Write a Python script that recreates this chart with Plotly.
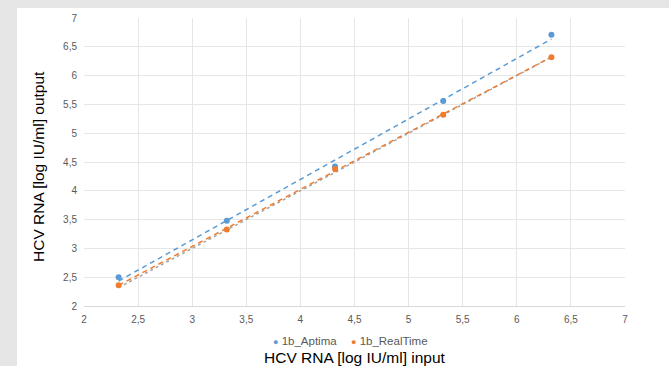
import numpy as np
import plotly.graph_objects as go

# Data
input_log = [2.32, 3.32, 4.32, 5.32, 6.32]
aptima = [2.50, 3.48, 4.42, 5.56, 6.71]
realtime = [2.36, 3.33, 4.38, 5.32, 6.32]
expected = [2.32, 3.32, 4.32, 5.32, 6.32]
series_names = ["1b_Aptima", "1b_RealTime"]

BLUE = "#5b9bd5"
ORANGE = "#ed7d31"
GRAY = "#a5a5a5"

x = np.array(input_log)


def trend(yv):
    k, b = np.polyfit(x, np.array(yv), 1)
    return list(k * x + b)


fig = go.Figure()
fig.add_trace(go.Scatter(x=input_log, y=expected, mode="lines",
                         line=dict(color=GRAY, dash="dot", width=1.5),
                         showlegend=False, hoverinfo="skip"))
fig.add_trace(go.Scatter(x=input_log, y=trend(aptima), mode="lines",
                         line=dict(color=BLUE, dash="5px,4px", width=1.5),
                         showlegend=False, hoverinfo="skip"))
fig.add_trace(go.Scatter(x=input_log, y=trend(realtime), mode="lines",
                         line=dict(color=ORANGE, dash="5px,4px", width=1.5),
                         showlegend=False, hoverinfo="skip"))
fig.add_trace(go.Scatter(x=input_log, y=aptima, mode="markers", name=series_names[0],
                         marker=dict(color=BLUE, size=6), showlegend=False))
fig.add_trace(go.Scatter(x=input_log, y=realtime, mode="markers", name=series_names[1],
                         marker=dict(color=ORANGE, size=6), showlegend=False))

W, H = 669, 366
L, R, T, B = 84, 625, 18, 306
pw, ph = R - L, B - T


def px(xp):
    return (xp - L) / pw


def py(yp):
    return (B - yp) / ph


fig.add_shape(type="rect", xref="paper", yref="paper",
              x0=px(17), x1=px(W + 5), y0=py(H + 5), y1=py(8),
              fillcolor="white", line=dict(width=0), layer="below")

tickfont = dict(family="Liberation Sans", size=10, color="#595959")
fig.update_xaxes(range=[2, 7], dtick=0.5, tick0=2, showgrid=True, gridcolor="#e6e6e6",
                 gridwidth=1, showline=True, linecolor="#d9d9d9", linewidth=1,
                 zeroline=False, ticks="", tickfont=tickfont, ticklabelstandoff=4)
fig.update_yaxes(range=[2, 7], dtick=0.5, tick0=2, showgrid=True, gridcolor="#e6e6e6",
                 gridwidth=1, showline=False, zeroline=False, ticks="",
                 tickfont=tickfont, ticklabelstandoff=6)

titlefont = dict(family="Liberation Sans", size=15.5, color="#000000")
fig.add_annotation(text="HCV RNA [log IU/ml] input", xref="paper", yref="paper",
                   x=px(355), y=py(357), showarrow=False, font=titlefont,
                   xanchor="center", yanchor="middle")
fig.add_annotation(text="HCV RNA [log IU/ml] output", xref="paper", yref="paper",
                   x=px(38), y=py(167), showarrow=False, font=titlefont, textangle=-90,
                   xanchor="center", yanchor="middle")

# legend drawn as text entries
legfont = dict(family="Liberation Sans", size=11.5, color="#595959")
leg_x = [271, 349]
for name, col, lx in zip(series_names, [BLUE, ORANGE], leg_x):
    fig.add_annotation(text=f"<span style='color:{col};font-size:9px'>●</span> {name}",
                       xref="paper", yref="paper", x=px(lx), y=py(341),
                       showarrow=False, font=legfont, xanchor="left", yanchor="middle")

fig.update_layout(
    width=W, height=H,
    margin=dict(l=L, r=W - R, t=T, b=H - B),
    paper_bgcolor="#e6e6e6",
    plot_bgcolor="rgba(0,0,0,0)",
    separators=",.",
    showlegend=False,
)

fig.write_html("out.html")
